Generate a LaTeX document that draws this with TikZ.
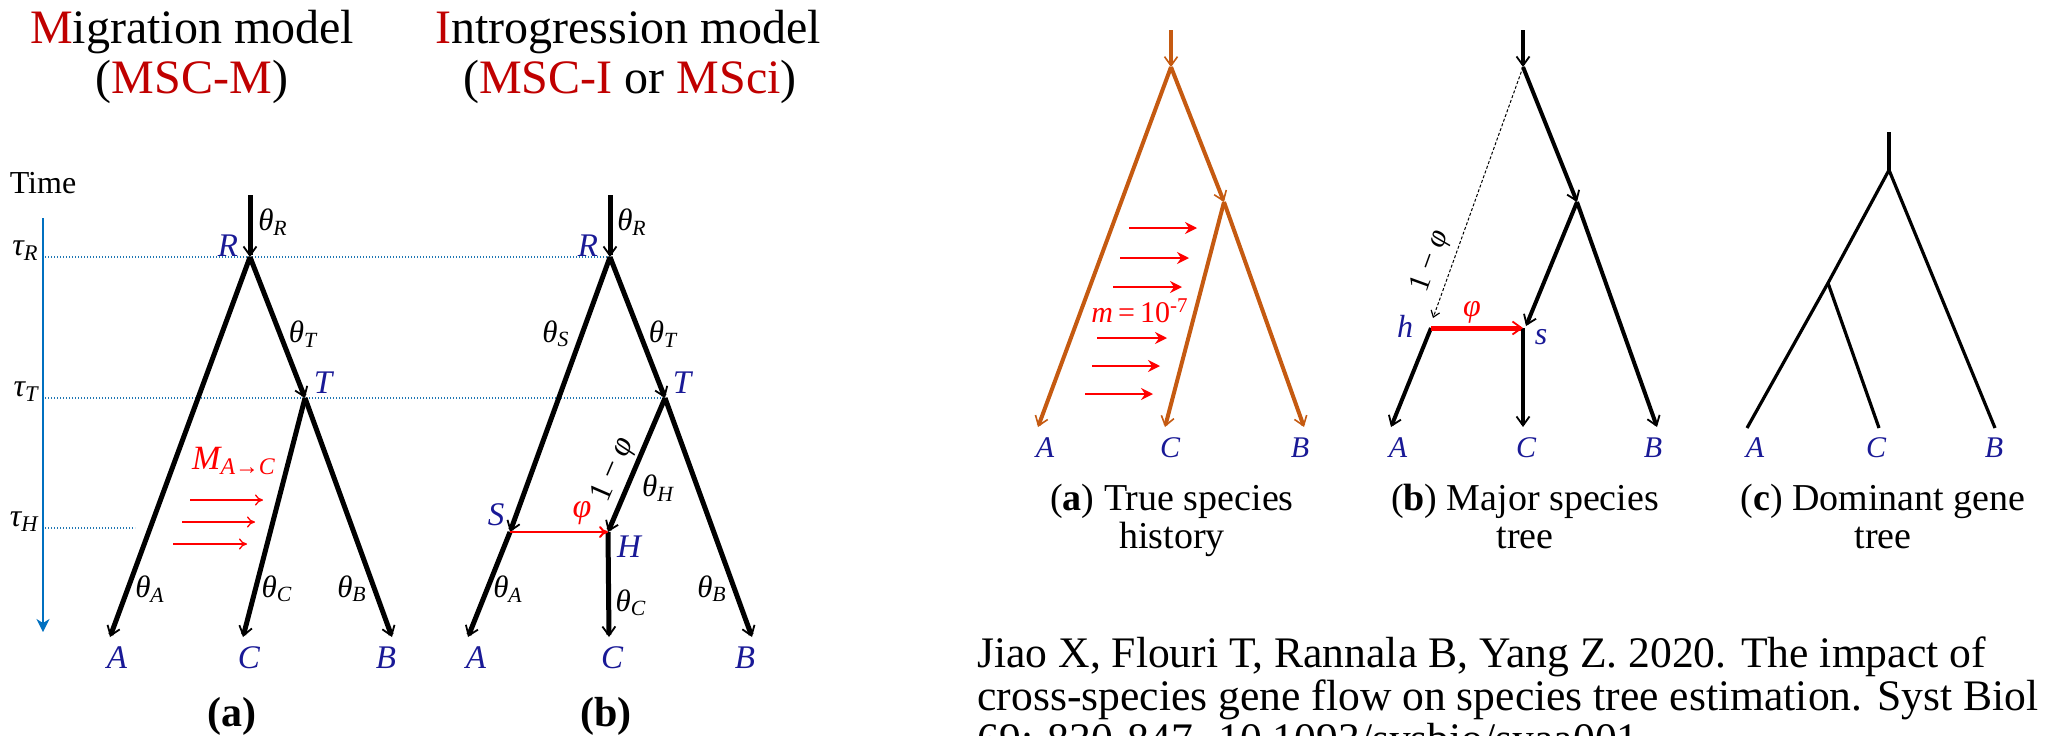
\documentclass[tikz,border=0pt]{standalone}
\usepackage{fontspec}
\setmainfont{Liberation Serif}
\usetikzlibrary{arrows.meta}
\definecolor{tred}{HTML}{C00000}
\definecolor{rred}{HTML}{FF0000}
\definecolor{nblue}{RGB}{25,25,150}
\definecolor{axblue}{HTML}{0070C0}
\definecolor{dotblue}{RGB}{31,119,180}
\definecolor{orng}{HTML}{C55A11}
\begin{document}
\begin{tikzpicture}[x=0.5pt,y=-0.5pt,
  lbl/.style={inner sep=0pt, font=\fontsize{15.5}{18}\selectfont\itshape},
  nlbl/.style={inner sep=0pt, text=nblue, font=\fontsize{16.5}{19}\selectfont\itshape},
  slbl/.style={inner sep=0pt, text=nblue, font=\fontsize{15}{18}\selectfont\itshape},
  ttl/.style={inner sep=0pt, anchor=base, font=\fontsize{24}{28}\selectfont},
  captxt/.style={inner sep=0pt, anchor=base, font=\fontsize{19}{22}\selectfont},
  citetxt/.style={inner sep=0pt, anchor=base west, font=\fontsize{21.8}{22}\selectfont},
  tbr/.style={line width=2.5pt, black},
  kbarb/.style={-{Straight Barb[length=4.5pt,width=6.5pt,line width=0.9pt]}},
  obr/.style={line width=2pt, orng, -{Straight Barb[length=4.5pt,width=6.5pt,line width=0.8pt]}},
  mbr/.style={line width=2pt, black, -{Straight Barb[length=4.5pt,width=6.5pt,line width=0.9pt]}},
  gbr/.style={line width=1.6pt, black},
  migarrow/.style={rred, line width=0.65pt, -{To[length=4pt,width=5.5pt]}},
  migarrowb/.style={rred, line width=0.75pt, -{Stealth[length=6pt,width=6pt,inset=2pt]}},
  tline/.style={dotblue, line width=0.6pt, dash pattern=on 0.6pt off 0.9pt},
  plab/.style={inner sep=0pt, font=\fontsize{21}{24}\selectfont\bfseries}
]
\useasboundingbox (0,0) rectangle (2049,735);

% ---------- titles ----------
\node[ttl] (t1a) at (192,43) {\textcolor{tred}{M}igration model};
\node[ttl] (t2a) at (192,93) {(\textcolor{tred}{MSC-M})};
\node[ttl] (t1b) at (628,43) {\textcolor{tred}{I}ntrogression model};
\node[ttl] (t2b) at (630,93) {(\textcolor{tred}{MSC-I} or \textcolor{tred}{MSci})};

% ---------- time axis ----------
\node[inner sep=0pt, anchor=base, font=\fontsize{16}{19}\selectfont] (time) at (43,193) {Time};
\coordinate (ax0) at (43,218);
\coordinate (ax1) at (43,632);
\draw[axblue, line width=1pt, -{Stealth[length=6.5pt,width=6.5pt,inset=2pt]}] (ax0) -- (ax1);
\node[lbl, anchor=base east, font=\fontsize{16}{19}\selectfont\itshape] (tauR) at (39,255) {τ\textsubscript{R}};
\node[lbl, anchor=base east, font=\fontsize{16}{19}\selectfont\itshape] (tauT) at (39,396) {τ\textsubscript{T}};
\node[lbl, anchor=base east, font=\fontsize{16}{19}\selectfont\itshape] (tauH) at (39,526) {τ\textsubscript{H}};

% ---------- tree coordinates, panel (a) left ----------
\coordinate (aTop) at (250,195);
\coordinate (aR) at (250,257);
\coordinate (aT) at (305,398);
\coordinate (aA) at (110,637);
\coordinate (aC) at (243,637);
\coordinate (aB) at (392,637);
% panel (b) left
\coordinate (bTop) at (610,195);
\coordinate (bR) at (610,257);
\coordinate (bT) at (665,398);
\coordinate (bS) at (510,532);
\coordinate (bH) at (608,532);
\coordinate (bA) at (468,637);
\coordinate (bC) at (609,637);
\coordinate (bB) at (752,637);

% time lines
\coordinate (lR) at (45,257);
\coordinate (lT) at (45,398);
\coordinate (lH0) at (45,528);
\coordinate (lH1) at (135,528);
\draw[tline] (lR) -- (bR);
\draw[tline] (lT) -- (bT);
\draw[tline] (lH0) -- (lH1);

% panel (a) branches
\draw[tbr, kbarb] (aTop) -- (aR);
\draw[tbr, kbarb] (aR) -- (aA);
\draw[tbr, kbarb] (aR) -- (aT);
\draw[tbr, kbarb] (aT) -- (aC);
\draw[tbr, kbarb] (aT) -- (aB);

\coordinate (m1s) at (190,500); \coordinate (m1e) at (263,500);
\coordinate (m2s) at (182,522); \coordinate (m2e) at (255,522);
\coordinate (m3s) at (173,544); \coordinate (m3e) at (247,544);
\draw[migarrow] (m1s) -- (m1e);
\draw[migarrow] (m2s) -- (m2e);
\draw[migarrow] (m3s) -- (m3e);

\node[lbl] (aThR) at (273,222) {θ\textsubscript{R}};
\node[nlbl] (aRl) at (228,246) {R};
\node[lbl] (aThT) at (303,334) {θ\textsubscript{T}};
\node[nlbl] (aTl) at (323,383) {T};
\node[lbl, text=rred, font=\fontsize{17}{19}\selectfont\itshape] (aM) at (234,461) {M\textsubscript{A→C}};
\node[lbl] (aThA) at (150,589) {θ\textsubscript{A}};
\node[lbl] (aThC) at (277,589) {θ\textsubscript{C}};
\node[lbl] (aThB) at (352,589) {θ\textsubscript{B}};
\node[nlbl] (aAl) at (117,658) {A};
\node[nlbl] (aCl) at (249,658) {C};
\node[nlbl] (aBl) at (386,658) {B};
\node[plab] (alab) at (232,716) {(a)};

% panel (b) branches
\draw[tbr, kbarb] (bTop) -- (bR);
\draw[tbr, kbarb] (bR) -- (bS);
\draw[tbr, kbarb] (bR) -- (bT);
\draw[tbr, kbarb] (bT) -- (bH);
\draw[tbr, kbarb] (bT) -- (bB);
\draw[tbr, kbarb] (bS) -- (bA);
\draw[tbr, kbarb] (bH) -- (bC);
\draw[rred, line width=1pt, -{To[length=4.5pt,width=6pt]}] (bS) -- (bH);

\node[lbl] (bThR) at (632,222) {θ\textsubscript{R}};
\node[nlbl] (bRl) at (588,246) {R};
\node[lbl] (bThS) at (556,334) {θ\textsubscript{S}};
\node[lbl] (bThT) at (663,334) {θ\textsubscript{T}};
\node[nlbl] (bTl) at (682,383) {T};
\node[lbl, rotate=66.6, font=\fontsize{16}{19}\selectfont] (bphi1) at (614,470) {1 − \textit{φ}};
\node[lbl] (bThH) at (658,488) {θ\textsubscript{H}};
\node[nlbl] (bSl) at (496,515) {S};
\node[lbl, text=rred, font=\fontsize{17}{19}\selectfont\itshape] (bphi) at (582,513) {φ};
\node[nlbl] (bHl) at (629,547) {H};
\node[lbl] (bThA) at (508,589) {θ\textsubscript{A}};
\node[lbl] (bThC) at (631,603) {θ\textsubscript{C}};
\node[lbl] (bThB) at (712,589) {θ\textsubscript{B}};
\node[nlbl] (bAl) at (476,658) {A};
\node[nlbl] (bCl) at (612,658) {C};
\node[nlbl] (bBl) at (745,658) {B};
\node[plab] (blab) at (606,716) {(b)};

% ---------- right: (a) true species history ----------
\coordinate (pTop) at (1171,30);
\coordinate (pR) at (1171,67);
\coordinate (pI) at (1224,202);
\coordinate (pA) at (1038,427);
\coordinate (pC) at (1165,427);
\coordinate (pB) at (1304,427);
\draw[obr] (pTop) -- (pR);
\draw[obr] (pR) -- (pA);
\draw[obr] (pR) -- (pI);
\draw[obr] (pI) -- (pC);
\draw[obr] (pI) -- (pB);
\coordinate (q1s) at (1129,228); \coordinate (q1e) at (1197,228);
\coordinate (q2s) at (1120,258); \coordinate (q2e) at (1189,258);
\coordinate (q3s) at (1113,287); \coordinate (q3e) at (1182,287);
\coordinate (q4s) at (1097,338); \coordinate (q4e) at (1167,338);
\coordinate (q5s) at (1092,366); \coordinate (q5e) at (1160,366);
\coordinate (q6s) at (1085,394); \coordinate (q6e) at (1153,394);
\draw[migarrowb] (q1s) -- (q1e);
\draw[migarrowb] (q2s) -- (q2e);
\draw[migarrowb] (q3s) -- (q3e);
\draw[migarrowb] (q4s) -- (q4e);
\draw[migarrowb] (q5s) -- (q5e);
\draw[migarrowb] (q6s) -- (q6e);
\node[inner sep=0pt, text=rred, font=\fontsize{15}{18}\selectfont] (pm) at (1140,311) {\textit{m}\,=\,10\textsuperscript{-7}};
\node[slbl] (pAl) at (1045,448) {A};
\node[slbl] (pCl) at (1170,448) {C};
\node[slbl] (pBl) at (1300,448) {B};
\node[captxt] (pcap1) at (1172,510) {(\textbf{a}) True species};
\node[captxt] (pcap2) at (1172,548) {history};

% ---------- right: (b) major species tree ----------
\coordinate (sTop) at (1523,30);
\coordinate (sR) at (1523,67);
\coordinate (sI) at (1577,202);
\coordinate (ss) at (1523,328);
\coordinate (sh) at (1431,328);
\coordinate (sA) at (1391,427);
\coordinate (sC) at (1523,427);
\coordinate (sB) at (1657,427);
\coordinate (shd) at (1433,318);
\coordinate (ssd) at (1526,326);
\draw[mbr] (sTop) -- (sR);
\draw[mbr] (sR) -- (sI);
\draw[mbr] (sI) -- (ssd);
\draw[mbr] (sI) -- (sB);
\draw[mbr] (sh) -- (sA);
\draw[mbr] (ss) -- (sC);
\draw[black, line width=0.5pt, dash pattern=on 1.5pt off 1pt, -{Straight Barb[length=3pt,width=4.5pt,line width=0.6pt]}] (sR) -- (shd);
\draw[rred, line width=2.5pt, -{Straight Barb[length=4.5pt,width=6.5pt,line width=0.9pt]}] (sh) -- (ss);
\node[lbl, rotate=70, font=\fontsize{15}{18}\selectfont] (sphi1) at (1431,261) {1 − \textit{φ}};
\node[lbl, text=rred, font=\fontsize{16}{18}\selectfont\itshape] (sphi) at (1472,312) {φ};
\node[slbl, font=\fontsize{16}{18}\selectfont\itshape] (shl) at (1405,326) {h};
\node[slbl, font=\fontsize{16}{18}\selectfont\itshape] (ssl) at (1541,337) {s};
\node[slbl] (sAl) at (1398,448) {A};
\node[slbl] (sCl) at (1526,448) {C};
\node[slbl] (sBl) at (1653,448) {B};
\node[captxt] (scap1) at (1525,510) {(\textbf{b}) Major species};
\node[captxt] (scap2) at (1525,548) {tree};

% ---------- right: (c) dominant gene tree ----------
\coordinate (gTop) at (1889,132);
\coordinate (gR) at (1889,170);
\coordinate (gI) at (1828,283);
\coordinate (gA) at (1747,428);
\coordinate (gC) at (1879,428);
\coordinate (gB) at (1995,428);
\draw[gbr] (gTop) -- (gR);
\draw[gbr, line join=miter] (gR) -- (gI) -- (gA);
\draw[gbr] (gI) -- (gC);
\draw[gbr] (gR) -- (gB);
\node[slbl] (gAl) at (1755,448) {A};
\node[slbl] (gCl) at (1876,448) {C};
\node[slbl] (gBl) at (1994,448) {B};
\node[captxt] (gcap1) at (1883,510) {(\textbf{c}) Dominant gene};
\node[captxt] (gcap2) at (1883,548) {tree};

% ---------- citation ----------
\begin{scope}
\clip (0,0) rectangle (2049,735);
\node[citetxt] (cit1) at (977,667) {Jiao X, Flouri T, Rannala B, Yang Z. 2020. The impact of};
\node[citetxt] (cit2) at (977,710) {cross-species gene flow on species tree estimation. Syst Biol};
\node[citetxt] (cit3) at (977,753) {69: 830-847. 10.1093/sysbio/syaa001};
\end{scope}
\end{tikzpicture}
\end{document}
